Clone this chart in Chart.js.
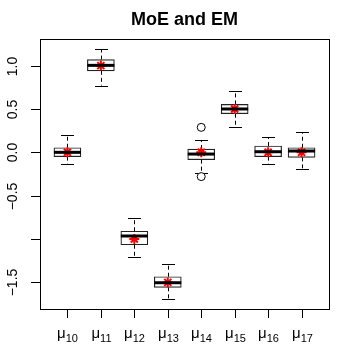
<!DOCTYPE html>
<html>
<head>
<meta charset="utf-8">
<script src="https://cdn.jsdelivr.net/npm/chart.js@4"></script>
<style>
  html, body { margin: 0; padding: 0; background: #fff; }
  #wrap { width: 349px; height: 349px; }
</style>
</head>
<body>
<div id="wrap"><canvas id="c" width="349" height="349"></canvas></div>
<script>
// ── DATA ───────────────────────────────────────────────────────────────────
const labels    = ["10", "11", "12", "13", "14", "15", "16", "17"];
const whiskLo   = [-0.135, 0.77, -1.204, -1.69, -0.242, 0.288, -0.138, -0.193];
const q1        = [-0.05, 0.94, -1.066, -1.557, -0.085, 0.445, -0.05, -0.058];
const medians   = [0.0, 1.003, -0.965, -1.504, -0.02, 0.5, 0.007, 0.015];
const q3        = [0.053, 1.07, -0.91, -1.435, 0.038, 0.553, 0.073, 0.053];
const whiskHi   = [0.2, 1.19, -0.754, -1.285, 0.142, 0.71, 0.173, 0.23];
const means     = [0.0, 1.0, -1.0, -1.5, 0.0, 0.5, 0.0, 0.0];
const outlierX  = [5, 5];
const outlierY  = [0.288, -0.28];
const yTicks    = [-1.5, -1.0, -0.5, 0.0, 0.5, 1.0];
const yTickText = ["-1.5", "", "-0.5", "0.0", "0.5", "1.0"];

const xs = labels.map((_, i) => i + 1);
const FONT = "'Liberation Sans', Arial, sans-serif";

// ── R-style boxplot decorations (whiskers, medians, frame, axes) ───────────
const boxDeco = {
  id: "boxDeco",
  beforeDatasetsDraw(chart) {
    const { ctx, scales: { x, y } } = chart;
    ctx.save();
    ctx.strokeStyle = "#000";
    ctx.lineWidth = 1;
    xs.forEach((v, i) => {
      const px = Math.round(x.getPixelForValue(v)) + 0.5;
      const cap = 6.5;
      // dashed whiskers
      ctx.setLineDash([4, 3]);
      ctx.beginPath();
      ctx.moveTo(px, y.getPixelForValue(q3[i]));
      ctx.lineTo(px, y.getPixelForValue(whiskHi[i]));
      ctx.moveTo(px, y.getPixelForValue(q1[i]));
      ctx.lineTo(px, y.getPixelForValue(whiskLo[i]));
      ctx.stroke();
      ctx.setLineDash([]);
      // whisker caps
      ctx.beginPath();
      const yh = Math.round(y.getPixelForValue(whiskHi[i])) + 0.5;
      const yl = Math.round(y.getPixelForValue(whiskLo[i])) + 0.5;
      ctx.moveTo(px - cap, yh); ctx.lineTo(px + cap, yh);
      ctx.moveTo(px - cap, yl); ctx.lineTo(px + cap, yl);
      ctx.stroke();
    });
    ctx.restore();
  },
  afterDatasetsDraw(chart) {
    const { ctx, scales: { x, y } } = chart;
    ctx.save();
    // medians (drawn under the mean stars, which come later)
    ctx.strokeStyle = "#000";
    ctx.lineWidth = 3;
    xs.forEach((v, i) => {
      const px = x.getPixelForValue(v);
      const py = y.getPixelForValue(medians[i]);
      ctx.beginPath();
      ctx.moveTo(px - 13.5, py); ctx.lineTo(px + 13.5, py);
      ctx.stroke();
    });
    ctx.restore();
  },
  afterDraw(chart) {
    const { ctx, chartArea: a, scales: { x, y } } = chart;
    ctx.save();
    ctx.strokeStyle = "#000";
    ctx.fillStyle = "#000";
    ctx.lineWidth = 1;
    // frame
    ctx.strokeRect(Math.round(a.left) + 0.5, Math.round(a.top) + 0.5,
                   Math.round(a.right - a.left), Math.round(a.bottom - a.top));
    // y ticks + rotated labels
    ctx.font = "14px " + FONT;
    ctx.textAlign = "center";
    ctx.textBaseline = "middle";
    yTicks.forEach((v, i) => {
      const py = Math.round(y.getPixelForValue(v)) + 0.5;
      ctx.beginPath();
      ctx.moveTo(a.left, py); ctx.lineTo(a.left - 9, py);
      ctx.stroke();
      if (yTickText[i]) {
        ctx.save();
        ctx.translate(13, py);
        ctx.rotate(-Math.PI / 2);
        ctx.fillText(yTickText[i].replace("-", "\u2212"), 0, 0);
        ctx.restore();
      }
    });
    // x ticks + mu labels
    xs.forEach((v, i) => {
      const px = Math.round(x.getPixelForValue(v)) + 0.5;
      ctx.beginPath();
      ctx.moveTo(px, a.bottom); ctx.lineTo(px, a.bottom + 9);
      ctx.stroke();
      ctx.font = "15px " + FONT;
      const mw = ctx.measureText("\u03bc").width;
      ctx.font = "11px " + FONT;
      const sw = ctx.measureText(labels[i]).width;
      const x0 = px - (mw + sw) / 2;
      ctx.textAlign = "left";
      ctx.textBaseline = "alphabetic";
      ctx.font = "15px " + FONT;
      ctx.fillText("\u03bc", x0, 338);
      ctx.font = "11px " + FONT;
      ctx.fillText(labels[i], x0 + mw, 342);
    });
    // title
    ctx.font = "bold 18px " + FONT;
    ctx.textAlign = "center";
    ctx.textBaseline = "middle";
    ctx.fillText("MoE and EM", (a.left + a.right) / 2, 20);
    ctx.restore();
  }
};

new Chart(document.getElementById("c"), {
  data: {
    datasets: [
      {
        type: "bar",
        data: xs.map((v, i) => ({ x: v, y: [q1[i], q3[i]] })),
        backgroundColor: "#fff",
        borderColor: "#222",
        borderWidth: 1.2,
        borderSkipped: false,
        barThickness: 27,
        order: 3,
      },
      {
        type: "scatter",
        data: outlierX.map((v, i) => ({ x: v, y: outlierY[i] })),
        pointStyle: "circle",
        pointRadius: 4,
        backgroundColor: "#fff",
        borderColor: "#000",
        borderWidth: 1,
        order: 2,
      },
      {
        type: "scatter",
        data: xs.map((v, i) => ({ x: v, y: means[i] })),
        pointStyle: "star",
        pointRadius: 5,
        borderColor: "#ff0000",
        backgroundColor: "#ff0000",
        borderWidth: 2,
        order: 1,
      },
    ],
  },
  options: {
    responsive: false, animation: false,
    layout: { padding: { left: 40, right: 20, top: 39, bottom: 40 } },
    plugins: { legend: { display: false }, tooltip: { enabled: false } },
    scales: {
      x: { type: "linear", min: 0.18, max: 8.82, display: false, offset: false },
      y: { type: "linear", min: -1.807, max: 1.307, display: false },
    },
  },
  plugins: [boxDeco],
});
</script>
</body>
</html>
